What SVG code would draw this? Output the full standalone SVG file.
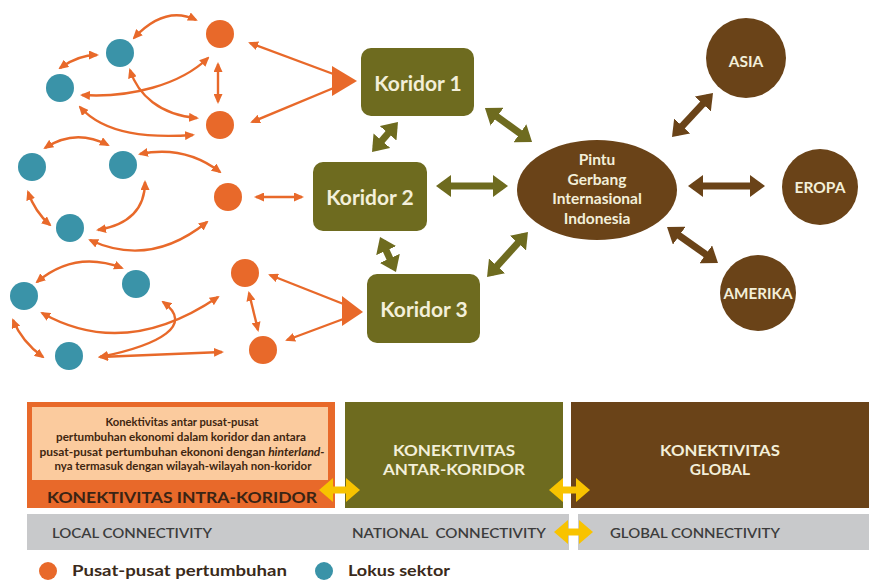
<svg xmlns="http://www.w3.org/2000/svg" width="869" height="581" viewBox="0 0 869 581">
<style>
.o{fill:#E8692A}
.b{fill:#3A93A8}
.k{fill:#6E6B1F}
.br{fill:#6A4318}
.ol{fill:none;stroke:#E8692A;stroke-width:2.4;marker-start:url(#mo);marker-end:url(#mo)}
.ol1{fill:none;stroke:#E8692A;stroke-width:2.4;marker-start:url(#mo)}
.gl{stroke:#6E6B1F;stroke-width:7;marker-start:url(#mg);marker-end:url(#mg)}
.bl{stroke:#6A4318;stroke-width:7;marker-start:url(#mb);marker-end:url(#mb)}
.yl{stroke:#F8C300;stroke-width:7;marker-start:url(#my);marker-end:url(#my)}
.t{font-family:Lato,"Liberation Sans",sans-serif;font-weight:bold}
.kt{font-size:21px;fill:#F3EFD9;text-anchor:middle}
.ct{font-size:15.5px;fill:#F3EFD9;text-anchor:middle}
.wt{font-size:15.5px;fill:#F3EFD9;text-anchor:middle}
.st{font-size:10.5px;fill:#3f2610;text-anchor:middle}
.gt{font-family:Lato,"Liberation Sans",sans-serif;font-weight:600;font-size:13.5px;fill:#3c3c3c}
.lt{font-size:15.5px;fill:#3a2a1a}
</style>
<defs>
<marker id="mo" viewBox="0 0 10 9" markerWidth="10" markerHeight="9" refX="8" refY="4.5" orient="auto-start-reverse" markerUnits="userSpaceOnUse"><path d="M0,0 L10,4.5 L0,9 Z" fill="#E8692A"/></marker>
<marker id="mg" viewBox="0 0 15 22" markerWidth="15" markerHeight="22" refX="10" refY="11" orient="auto-start-reverse" markerUnits="userSpaceOnUse"><path d="M0,0 L15,11 L0,22 Z" fill="#6E6B1F"/></marker>
<marker id="mb" viewBox="0 0 15 22" markerWidth="15" markerHeight="22" refX="10" refY="11" orient="auto-start-reverse" markerUnits="userSpaceOnUse"><path d="M0,0 L15,11 L0,22 Z" fill="#6A4318"/></marker>
<marker id="my" viewBox="0 0 14 24" markerWidth="14" markerHeight="24" refX="9" refY="12" orient="auto-start-reverse" markerUnits="userSpaceOnUse"><path d="M0,0 L14,12 L0,24 Z" fill="#F8C300"/></marker>
</defs>
<rect width="869" height="581" fill="#ffffff"/>

<g id="connectors">
<path class="ol" d="M134,38 Q165,5 196,20"/>
<path class="ol" d="M60,68 Q78,55 97,55"/>
<path class="ol" d="M218,64 L218,102"/>
<path class="ol" d="M82,95 C130,98 180,85 208,58"/>
<path class="ol" d="M130,70 C138,95 160,115 197,118"/>
<path class="ol" d="M80,107 C105,135 150,138 193,135"/>
<path class="ol1" d="M250,43 L336,75"/>
<path class="ol1" d="M252,122 L336,87"/>
<polygon class="o" points="332,66 357,81 332,96"/>
<path class="ol" d="M45,148 Q75,128 108,145"/>
<path class="ol" d="M140,154 Q185,145 220,172"/>
<path class="ol" d="M28,192 Q35,212 50,225"/>
<path class="ol" d="M98,230 Q145,222 145,182"/>
<path class="ol" d="M90,240 Q150,268 207,222"/>
<path class="ol" d="M256,197 L302,197"/>
<path class="ol" d="M37,282 Q75,250 122,268"/>
<path class="ol" d="M42,313 Q125,360 218,297"/>
<path class="ol" d="M13,320 Q22,342 43,357"/>
<path class="ol" d="M100,357 C160,345 195,325 163,302"/>
<path class="ol" d="M100,357 L222,352"/>
<path class="ol" d="M249,293 L258,330"/>
<path class="ol1" d="M270,275 L346,305"/>
<path class="ol1" d="M287,340 L346,318"/>
<polygon class="o" points="342,296 363,312 342,326"/>
<line class="gl" x1="489" y1="110.9" x2="528" y2="139.1"/>
<line class="gl" x1="394.7" y1="125.8" x2="375.3" y2="148.2"/>
<line class="gl" x1="441" y1="186" x2="503" y2="186"/>
<line class="gl" x1="382.1" y1="241.5" x2="393.9" y2="267.5"/>
<line class="gl" x1="490.4" y1="273.3" x2="524.6" y2="235.7"/>
<line class="bl" x1="675.4" y1="133.3" x2="709.6" y2="96.7"/>
<line class="bl" x1="693" y1="186" x2="760" y2="186"/>
<line class="bl" x1="671.1" y1="229.9" x2="713.9" y2="260.1"/>
</g>

<g id="pusat"><circle class="o" cx="220" cy="34" r="14"/><circle class="o" cx="220" cy="125" r="14"/><circle class="o" cx="228" cy="197" r="14"/><circle class="o" cx="245" cy="273" r="14"/><circle class="o" cx="263" cy="350" r="14"/></g>
<g id="lokus"><circle class="b" cx="120" cy="53" r="14"/><circle class="b" cx="60" cy="88" r="14"/><circle class="b" cx="32" cy="167" r="14"/><circle class="b" cx="123" cy="165" r="14"/><circle class="b" cx="70" cy="228" r="14"/><circle class="b" cx="24" cy="296" r="14"/><circle class="b" cx="136" cy="284" r="14"/><circle class="b" cx="69" cy="356" r="14"/></g>

<g id="koridor1"><rect class="k" x="361" y="48" width="113" height="68" rx="10"/><text class="t kt" x="418" y="91">Koridor 1</text></g>
<g id="koridor2"><rect class="k" x="313" y="162" width="114" height="69" rx="10"/><text class="t kt" x="370" y="205">Koridor 2</text></g>
<g id="koridor3"><rect class="k" x="367" y="274" width="113" height="69" rx="10"/><text class="t kt" x="424" y="317">Koridor 3</text></g>

<g id="pintu"><ellipse class="br" cx="597" cy="190" rx="80" ry="50"/>
<text class="t ct" x="597" y="165">Pintu</text><text class="t ct" x="597" y="185">Gerbang</text><text class="t ct" x="597" y="204">Internasional</text><text class="t ct" x="597" y="224">Indonesia</text></g>
<g id="asia"><circle class="br" cx="746" cy="58" r="40"/><text class="t ct" x="746" y="67">ASIA</text></g>
<g id="eropa"><circle class="br" cx="820" cy="187" r="38"/><text class="t ct" x="820" y="193">EROPA</text></g>
<g id="amerika"><circle class="br" cx="758" cy="293" r="38"/><text class="t ct" x="758" y="299" textLength="69" lengthAdjust="spacingAndGlyphs">AMERIKA</text></g>

<g id="intra">
<rect x="27" y="402" width="308" height="106" fill="#E8692A"/>
<rect x="32" y="407" width="296" height="73" fill="#FBCB9E"/>
<text class="t st" x="182" y="426" textLength="153" lengthAdjust="spacingAndGlyphs">Konektivitas antar pusat-pusat</text>
<text class="t st" x="181" y="441" textLength="250" lengthAdjust="spacingAndGlyphs">pertumbuhan ekonomi dalam koridor dan antara</text>
<text class="t st" x="182" y="456" textLength="285" lengthAdjust="spacingAndGlyphs">pusat-pusat pertumbuhan ekononi dengan <tspan font-style="italic">hinterland-</tspan></text>
<text class="t st" x="183" y="470" textLength="257" lengthAdjust="spacingAndGlyphs">nya termasuk dengan wilayah-wilayah non-koridor</text>
<text class="t" x="182" y="503" font-size="16" fill="#3a2414" text-anchor="middle" textLength="270" lengthAdjust="spacingAndGlyphs">KONEKTIVITAS INTRA-KORIDOR</text>
</g>
<g id="antar">
<rect class="k" x="345" y="402" width="218" height="106"/>
<text class="t wt" x="454" y="456" textLength="122" lengthAdjust="spacingAndGlyphs">KONEKTIVITAS</text>
<text class="t wt" x="454" y="475" textLength="142" lengthAdjust="spacingAndGlyphs">ANTAR-KORIDOR</text>
</g>
<g id="global">
<rect class="br" x="571" y="402" width="298" height="106"/>
<text class="t wt" x="720" y="456" textLength="120" lengthAdjust="spacingAndGlyphs">KONEKTIVITAS</text>
<text class="t wt" x="720" y="475">GLOBAL</text>
</g>
<g id="levels">
<rect x="27" y="514" width="542" height="36" fill="#C8C9CB"/>
<rect x="578" y="514" width="291" height="36" fill="#C8C9CB"/>
<text class="gt" x="52" y="538" textLength="160" lengthAdjust="spacingAndGlyphs">LOCAL CONNECTIVITY</text>
<text class="gt" x="352" y="538" xml:space="preserve" textLength="194" lengthAdjust="spacingAndGlyphs">NATIONAL  CONNECTIVITY</text>
<text class="gt" x="610" y="538" textLength="170" lengthAdjust="spacingAndGlyphs">GLOBAL CONNECTIVITY</text>
</g>
<g id="yellow-arrows">
<line class="yl" x1="324" y1="490" x2="355" y2="490"/>
<line class="yl" x1="554" y1="490" x2="585" y2="490"/>
<line class="yl" x1="559" y1="532" x2="588" y2="532"/>
</g>
<g id="legend">
<circle class="o" cx="48" cy="571" r="9"/>
<text class="t lt" x="72" y="576" textLength="215" lengthAdjust="spacingAndGlyphs">Pusat-pusat pertumbuhan</text>
<circle class="b" cx="324" cy="571" r="9"/>
<text class="t lt" x="348" y="576" textLength="102" lengthAdjust="spacingAndGlyphs">Lokus sektor</text>
</g>
</svg>
